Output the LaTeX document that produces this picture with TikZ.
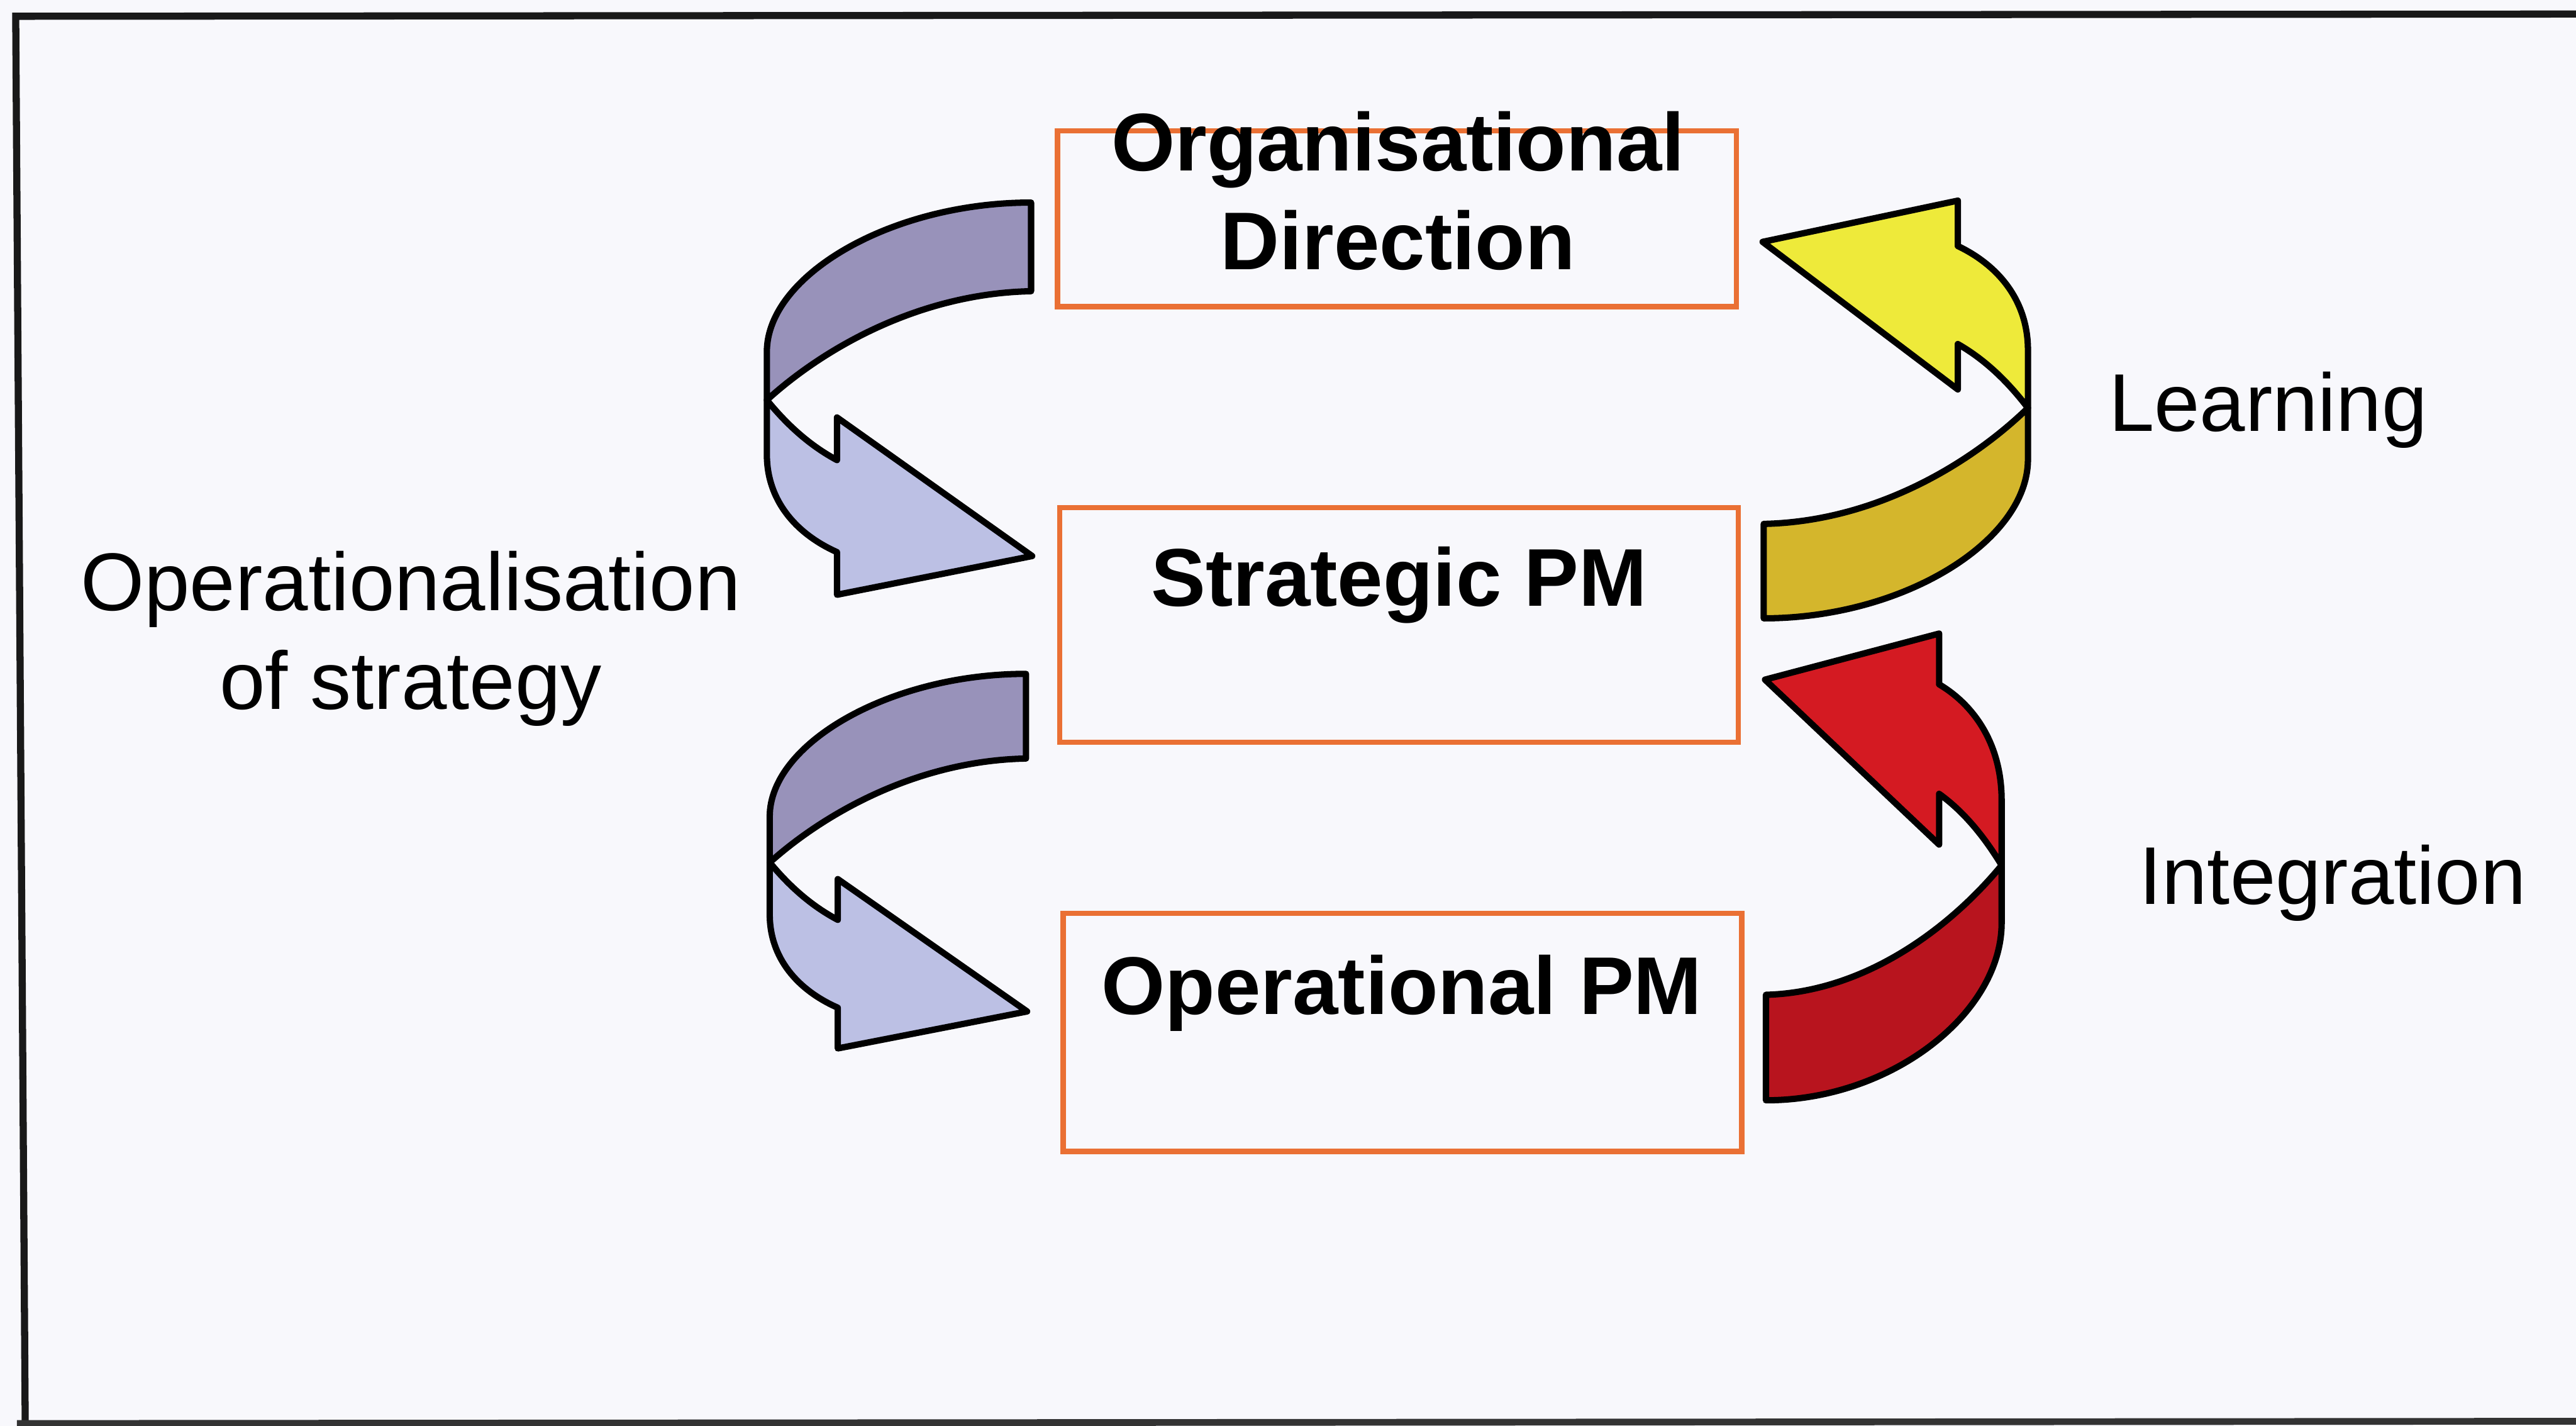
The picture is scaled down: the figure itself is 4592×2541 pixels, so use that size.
\documentclass[tikz,border=0pt]{standalone}
\usepackage{fontspec}
\setmainfont{Liberation Sans}
\usetikzlibrary{calc}

\definecolor{paper}{RGB}{248,248,252}
\definecolor{boxline}{RGB}{234,112,52}
\definecolor{lilacdark}{RGB}{152,146,186}
\definecolor{lilaclight}{RGB}{188,192,228}
\definecolor{golddark}{RGB}{212,182,44}
\definecolor{goldlight}{RGB}{238,234,58}
\definecolor{reddark}{RGB}{184,20,30}
\definecolor{redlight}{RGB}{212,26,34}

\tikzset{
  level/.style={draw=boxline, line width=2.6pt, inner sep=0pt, minimum width=12.09cm},
  levellabel/.style={font=\bfseries\fontsize{41.5}{50}\selectfont, inner sep=0pt, anchor=base, align=center},
  sidelabel/.style={font=\fontsize{41.5}{50}\selectfont, inner sep=0pt, anchor=base, align=center},
  ribbon/.style={draw=black, line width=3.2pt, line join=round},
}

% Folded U-turn ribbon arrow: tail at the origin (top right), head pointing right below it.
% #1 = colour of the tail half, #2 = colour of the head half.
\newcommand\uturnarrow[2]{%
  \path[ribbon, fill=#1] (0,0) .. controls (-250,0) and (-471,130) .. (-471,266)
     -- (-471,352) .. controls (-370,260) and (-200,162) .. (0,158) -- cycle;
  \path[ribbon, fill=#2] (-471,352) -- (-471,449)
     .. controls (-471,530) and (-420,590) .. (-346,623)
     -- (-346,699) -- (2,630) -- (-346,383) -- (-346,459)
     .. controls (-400,430) and (-440,390) .. (-471,352) -- cycle;
}

\begin{document}
\begin{tikzpicture}[x=0.01cm, y=-0.01cm]
\useasboundingbox (0,0) rectangle (4592,2541);
\clip (0,0) rectangle (4592,2541);
\fill[paper] (0,0) rectangle (4592,2541);

% outer frame
\draw[line width=3.6pt, black!90, line join=miter] (4600,25) -- (28,29) -- (45,2545);
\draw[line width=3.4pt, black!80] (30,2537) -- (4600,2533);

% the three levels
\node[level, minimum height=3.13cm] (org) at (2490,390) {};
\node[level, minimum height=4.18cm] (strat) at (2494,1114) {};
\node[level, minimum height=4.24cm] (oper) at (2500,1840) {};

% (a multi-line node sits on the baseline of its last line)
\node[levellabel] (orgtext) at (2492,480) {Organisational\\Direction};
\node[levellabel] (strattext) at (2494,1080) {Strategic PM};
\node[levellabel] (opertext) at (2499,1808) {Operational PM};

% side captions
\node[sidelabel] (opslabel) at (732,1264) {Operationalisation\\of strategy};
\node[sidelabel] (learnlabel) at (4043,768) {Learning};
\node[sidelabel] (intlabel) at (4158,1612) {Integration};

% downward arrows on the left
\begin{scope}[shift={(1838,361)}]
  \uturnarrow{lilacdark}{lilaclight}
\end{scope}
\begin{scope}[shift={(1829,1201)}, xscale=0.97, yscale=0.955]
  \uturnarrow{lilacdark}{lilaclight}
\end{scope}

% upward arrows on the right
\begin{scope}[shift={(3144,1102)}, xscale=-1, yscale=-1.065]
  \uturnarrow{golddark}{goldlight}
\end{scope}
\begin{scope}[shift={(3148,1961)}, xscale=-0.892, yscale=-1.19]
  \uturnarrow{reddark}{redlight}
\end{scope}
\end{tikzpicture}
\end{document}
